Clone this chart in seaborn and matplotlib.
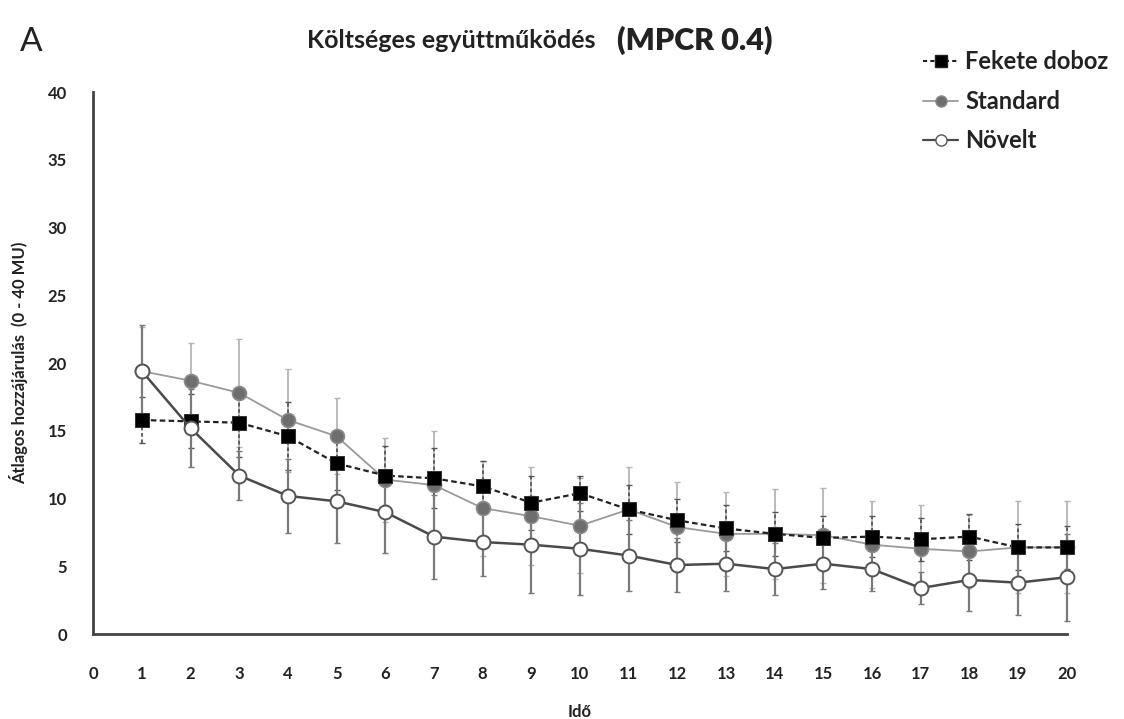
import matplotlib
matplotlib.use("Agg")
import matplotlib.pyplot as plt
import pandas as pd
import seaborn as sns
from matplotlib.lines import Line2D

# Idő (rounds)
ido = list(range(1, 21))

# Átlagos hozzájárulás per treatment
fekete = [15.8, 15.7, 15.6, 14.6, 12.6, 11.7, 11.5, 10.9, 9.7, 10.4,
          9.2, 8.4, 7.8, 7.4, 7.1, 7.2, 7.0, 7.2, 6.4, 6.4]
fekete_sd = [1.7, 2.0, 2.5, 2.5, 2.0, 2.2, 2.2, 1.9, 2.0, 1.3,
             1.8, 1.6, 1.7, 1.6, 1.6, 1.5, 1.6, 1.7, 1.7, 1.6]

standard = [19.4, 18.7, 17.8, 15.8, 14.6, 11.4, 11.0, 9.3, 8.7, 8.0,
            9.2, 7.9, 7.4, 7.4, 7.3, 6.6, 6.3, 6.1, 6.4, 6.4]
standard_sd = [3.3, 2.8, 4.0, 3.8, 2.8, 3.1, 4.0, 3.5, 3.6, 3.5,
               3.1, 3.3, 3.1, 3.3, 3.5, 3.2, 3.2, 2.7, 3.4, 3.4]

novelt = [19.4, 15.2, 11.7, 10.2, 9.8, 9.0, 7.2, 6.8, 6.6, 6.3,
          5.8, 5.1, 5.2, 4.8, 5.2, 4.8, 3.4, 4.0, 3.8, 4.2]
novelt_sd = [3.4, 2.9, 1.8, 2.7, 3.1, 3.0, 3.1, 2.5, 3.6, 3.4,
             2.6, 2.0, 2.0, 1.9, 1.9, 1.6, 1.2, 2.3, 2.4, 3.2]

sns.set_theme(style="white")
plt.rcParams["font.family"] = ["Lato", "DejaVu Sans"]

fig = plt.figure(figsize=(11.24, 7.19), dpi=100)
ax = fig.add_axes([0.083, 0.118, 0.866, 0.754])

# error bars first (behind the lines)
ax.errorbar(ido, standard, yerr=standard_sd, fmt="none", ecolor="#b5b5b5",
            elinewidth=1.3, capsize=2, linestyle=":", zorder=1, clip_on=False)
eb = ax.errorbar(ido, fekete, yerr=fekete_sd, fmt="none", ecolor="#555555",
                 elinewidth=1.3, capsize=2, zorder=1, clip_on=False)
eb[2][0].set_linestyle((0, (2, 1.5)))
ax.errorbar(ido, novelt, yerr=novelt_sd, fmt="none", ecolor="#7a7a7a",
            elinewidth=1.6, capsize=2, zorder=1, clip_on=False)

sns.lineplot(x=ido, y=standard, ax=ax, color="#9a9a9a", linewidth=1.3,
             marker="o", markersize=10, markerfacecolor="#6e6e6e",
             markeredgecolor="#8a8a8a", markeredgewidth=1.2, zorder=3, clip_on=False)
sns.lineplot(x=ido, y=fekete, ax=ax, color="#222222", linewidth=1.6,
             linestyle=(0, (2.5, 1.5)), marker="s", markersize=10,
             markerfacecolor="black", markeredgecolor="#333333", zorder=4, clip_on=False)
sns.lineplot(x=ido, y=novelt, ax=ax, color="#4a4a4a", linewidth=1.8,
             marker="o", markersize=10, markerfacecolor="white",
             markeredgecolor="#555555", markeredgewidth=1.4, zorder=5, clip_on=False)

ax.set_xlim(0, 20)
ax.set_ylim(0, 40)
ax.set_xticks(range(0, 21))
ax.set_yticks(range(0, 41, 5))
ax.tick_params(axis="both", direction="out", length=5, width=1.5, color="#444444",
               labelsize=12)
for lbl in ax.get_xticklabels() + ax.get_yticklabels():
    lbl.set_fontweight("bold")
    lbl.set_color("#222222")
ax.tick_params(axis="x", pad=18)
ax.tick_params(axis="y", pad=14)
sns.despine(ax=ax)
for sp in ("left", "bottom"):
    ax.spines[sp].set_color("#444444")
    ax.spines[sp].set_linewidth(2)

ax.set_xlabel("Idő", fontsize=12, fontweight="bold", labelpad=16, color="#222222")
ax.set_ylabel("Átlagos hozzájárulás  (0 - 40 MU)", fontsize=12, fontweight="bold",
              labelpad=14, color="#222222")

fig.text(0.273, 0.944, "Költséges együttműködés", fontsize=18, fontweight="bold",
         color="#222222", va="center")
fig.text(0.549, 0.944, "(MPCR 0.4)", fontsize=22, fontweight="heavy",
         color="#222222", va="center")
fig.text(0.018, 0.942, "A", fontsize=24, color="#222222", va="center")

handles = [
    Line2D([], [], color="#222222", linestyle=(0, (2, 1.5)), linewidth=1.5,
           marker="s", markersize=8, markerfacecolor="black"),
    Line2D([], [], color="#9a9a9a", linewidth=1.3, marker="o", markersize=8,
           markerfacecolor="#6e6e6e", markeredgecolor="#8a8a8a"),
    Line2D([], [], color="#4a4a4a", linewidth=1.6, marker="o", markersize=8,
           markerfacecolor="white", markeredgecolor="#555555"),
]
leg = fig.legend(handles, ["Fekete doboz", "Standard", "Növelt"], loc="upper left",
                 bbox_to_anchor=(0.821, 0.93), frameon=False, handlelength=1.5,
                 handletextpad=0.3, labelspacing=0.7, borderpad=0,
                 borderaxespad=0, prop={"size": 17, "weight": "bold"})
for t in leg.get_texts():
    t.set_color("#222222")

fig.savefig("out.png", dpi=100, facecolor="white")
